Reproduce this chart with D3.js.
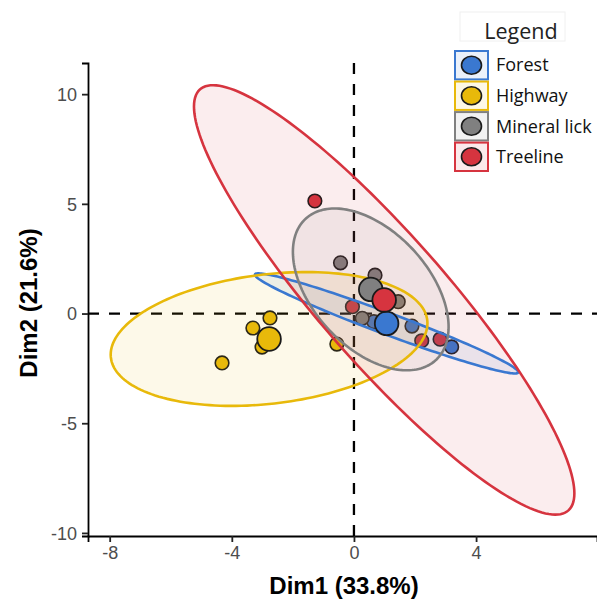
<!DOCTYPE html>
<html>
<head>
<meta charset="utf-8">
<script src="https://cdn.jsdelivr.net/npm/d3@7"></script>
<style>
  html, body { margin: 0; padding: 0; background: #ffffff; }
  svg { display: block; }
</style>
</head>
<body>
<svg id="chart" width="597" height="600"></svg>
<script>
// ---------------- DATA ----------------
const groups = ["Forest", "Highway", "Mineral lick", "Treeline"];

// individual observations (Dim1, Dim2)
const forestDim1 = [0.65, 1.90, 3.20];
const forestDim2 = [-0.37, -0.57, -1.52];
const highwayDim1 = [-2.75, -3.31, -3.01, -4.32, -0.56];
const highwayDim2 = [-0.20, -0.66, -1.53, -2.25, -1.39];
const mineralDim1 = [-0.44, 0.69, 1.45, 0.27];
const mineralDim2 = [2.31, 1.75, 0.54, -0.22];
const treelineDim1 = [-1.28, -0.05, 2.22, 2.82];
const treelineDim2 = [5.13, 0.31, -1.24, -1.17];

// group centroids (big points)
const meanDim1 = [1.07, -2.78, 0.55, 0.99];
const meanDim2 = [-0.45, -1.16, 1.10, 0.62];

// confidence ellipse shape matrices (data units): sxx, sxy, syy
const ellSxx = [18.6, 26.9, 6.5, 38.8];
const ellSxy = [-9.57, 3.7, -4.36, -54.9];
const ellSyy = [5.2, 9.3, 13.6, 95.8];

// axis ticks
const xTicks = [-8, -4, 0, 4];
const yTicks = [-10, -5, 0, 5, 10];
const xTitle = "Dim1 (33.8%)";
const yTitle = "Dim2 (21.6%)";
const legendTitle = "Legend";

// ---------------- STYLE ----------------
const colors = ["#3a78d0", "#e8b90a", "#808080", "#d6343f"];
const fontTick = "'Liberation Sans', Arial, sans-serif";
const fontLegend = "'Open Sans', 'Noto Sans', sans-serif";

const svg = d3.select("#chart");
const pLeft = 88, pRight = 597, pTop = 63, pBottom = 536;

const x = d3.scaleLinear().domain([-8.71, 7.96]).range([pLeft, pRight]);
const y = d3.scaleLinear().domain([-10.14, 11.42]).range([pBottom, pTop]);

// clip for plot panel
svg.append("defs").append("clipPath").attr("id", "panel")
  .append("rect").attr("x", pLeft).attr("y", pTop)
  .attr("width", pRight - pLeft).attr("height", pBottom - pTop);

const panel = svg.append("g").attr("clip-path", "url(#panel)");

// dashed reference lines
panel.append("line")
  .attr("x1", pLeft).attr("x2", pRight)
  .attr("y1", y(0)).attr("y2", y(0))
  .attr("stroke", "#000").attr("stroke-width", 2.3)
  .attr("stroke-dasharray", "11,10");
panel.append("line")
  .attr("x1", x(0)).attr("x2", x(0))
  .attr("y1", pBottom).attr("y2", pTop)
  .attr("stroke", "#000").attr("stroke-width", 2.3)
  .attr("stroke-dasharray", "11,10");

// individual points
const indiv = [
  [forestDim1, forestDim2],
  [highwayDim1, highwayDim2],
  [mineralDim1, mineralDim2],
  [treelineDim1, treelineDim2]
];
const pts = [];
indiv.forEach((arr, gi) => arr[0].forEach((v, i) => pts.push({g: gi, d1: v, d2: arr[1][i]})));

panel.append("g").selectAll("circle").data(pts).join("circle")
  .attr("cx", d => x(d.d1)).attr("cy", d => y(d.d2))
  .attr("r", 6.8)
  .attr("fill", d => colors[d.g])
  .attr("stroke", "#1a1a1a").attr("stroke-width", 1.6);

// ellipses: fills first, then outlines
const tSteps = d3.range(0, 2 * Math.PI + 0.0001, Math.PI / 90);
const ellPaths = groups.map((g, gi) => {
  const l11 = Math.sqrt(ellSxx[gi]);
  const l21 = ellSxy[gi] / l11;
  const l22 = Math.sqrt(ellSyy[gi] - l21 * l21);
  return d3.line()
    .x(t => x(meanDim1[gi] + l11 * Math.cos(t)))
    .y(t => y(meanDim2[gi] + l21 * Math.cos(t) + l22 * Math.sin(t)))
    .curve(d3.curveLinearClosed)(tSteps);
});
panel.append("g").selectAll("path").data(ellPaths).join("path")
  .attr("d", d => d)
  .attr("fill", (d, i) => colors[i]).attr("fill-opacity", 0.09)
  .attr("stroke", "none");
panel.append("g").selectAll("path").data(ellPaths).join("path")
  .attr("d", d => d)
  .attr("fill", "none")
  .attr("stroke", (d, i) => colors[i]).attr("stroke-width", 2.6);

// mean points
panel.append("g").selectAll("circle").data(groups).join("circle")
  .attr("cx", (d, i) => x(meanDim1[i])).attr("cy", (d, i) => y(meanDim2[i]))
  .attr("r", 11.8)
  .attr("fill", (d, i) => colors[i])
  .attr("stroke", "#1a1a1a").attr("stroke-width", 1.8);

// axes
const xAxis = svg.append("g").attr("transform", `translate(0,${pBottom})`)
  .call(d3.axisBottom(x).tickValues(xTicks).tickSize(6).tickPadding(4).tickFormat(d3.format("d")));
const yAxis = svg.append("g").attr("transform", `translate(${pLeft},0)`)
  .call(d3.axisLeft(y).tickValues(yTicks).tickSize(6).tickPadding(5).tickFormat(d3.format("d")));
[xAxis, yAxis].forEach(a => {
  a.select(".domain").attr("stroke", "#000").attr("stroke-width", 1.8);
  a.selectAll(".tick line").attr("stroke", "#222").attr("stroke-width", 1.8);
  a.selectAll(".tick text")
    .attr("font-family", fontTick).attr("font-size", 18).attr("fill", "#4d4d4d")
    .text(d => d < 0 ? "-" + Math.abs(d) : d);
});
yAxis.selectAll(".tick text").attr("dy", "0.35em");

// axis titles
svg.append("text")
  .attr("x", 344).attr("y", 594)
  .attr("text-anchor", "middle")
  .attr("font-family", fontTick).attr("font-weight", "bold")
  .attr("font-size", 24).attr("fill", "#000")
  .text(xTitle);
svg.append("text")
  .attr("transform", `translate(37,303) rotate(-90)`)
  .attr("text-anchor", "middle")
  .attr("font-family", fontTick).attr("font-weight", "bold")
  .attr("font-size", 24).attr("fill", "#000")
  .text(yTitle);

// legend
const lg = svg.append("g");
lg.append("rect").attr("x", 460).attr("y", 12).attr("width", 105).attr("height", 29)
  .attr("fill", "#fff").attr("stroke", "#f0f0f0").attr("stroke-width", 1);
lg.append("text").attr("x", 521).attr("y", 39)
  .attr("text-anchor", "middle")
  .attr("font-family", fontLegend).attr("font-size", 21.5).attr("fill", "#222")
  .text(legendTitle);

const keyY = d3.scaleBand().domain(groups).range([51, 171]).paddingInner(0.07);
const keys = lg.selectAll("g.key").data(groups).join("g").attr("class", "key")
  .attr("transform", d => `translate(455,${keyY(d)})`);
keys.append("rect").attr("x", 0).attr("y", 0)
  .attr("width", 33).attr("height", keyY.bandwidth())
  .attr("fill", (d, i) => d3.color(colors[i]).copy({opacity: 0.1}))
  .attr("stroke", (d, i) => colors[i]).attr("stroke-width", 2);
keys.append("ellipse").attr("cx", 16.5).attr("cy", keyY.bandwidth() / 2)
  .attr("rx", 10).attr("ry", 9)
  .attr("fill", (d, i) => colors[i]).attr("stroke", "#1a1a1a").attr("stroke-width", 1.6);
keys.append("text").attr("x", 41).attr("y", keyY.bandwidth() / 2)
  .attr("dy", "0.35em")
  .attr("font-family", fontLegend).attr("font-size", 18).attr("fill", "#111")
  .text(d => d);
</script>
</body>
</html>
